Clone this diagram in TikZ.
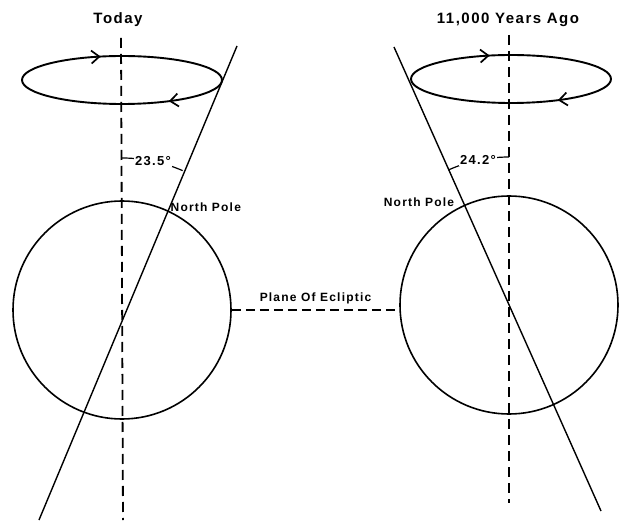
\documentclass[tikz,border=0pt]{standalone}
\usepackage{fontspec}
\setmainfont{Liberation Sans}[LetterSpace=10]
\usepackage{tikz}
\usetikzlibrary{arrows.meta,decorations.markings,calc}

\begin{document}
\begin{tikzpicture}[x=1pt, y=1pt,
  earth/.style={circle, draw, line width=1.6pt, minimum size=218pt, inner sep=0pt},
  axisline/.style={line width=1.4pt},
  pole/.style={dash pattern=on 10pt off 6pt, line width=1.8pt},
  ecliptic/.style={dash pattern=on 9pt off 5pt, line width=1.6pt},
  orbit/.style={line width=1.9pt, decoration={markings,
      mark=at position 0.2 with {\arrow{Straight Barb[length=8pt,width=13pt,line width=1.7pt]}},
      mark=at position 0.64 with {\arrow{Straight Barb[length=8pt,width=13pt,line width=1.7pt]}}},
    postaction={decorate}},
  title/.style={font=\bfseries\fontsize{15}{18}\selectfont},
  lbl/.style={font=\bfseries\fontsize{12}{14}\selectfont, inner sep=0pt},
  tiltlabel/.style={fill=white, inner sep=1pt, font=\bfseries\fontsize{13}{15}\selectfont}]
  \useasboundingbox (0,0) rectangle (621,520);

  % Today
  \node[title] (today) at (118,500) {Today};
  \node[earth] (Learth) at (122,210) {};
  \coordinate (Ltop) at (121,482);
  \coordinate (Lbot) at (123,0);
  \draw[pole] (Ltop) -- (Lbot);
  \coordinate (Laxtop) at (237,474);
  \coordinate (Laxbot) at (39,0);
  \draw[axisline] (Laxtop) -- (Laxbot);
  \coordinate (Lorbit) at (122,440);
  \draw[orbit] ($(Lorbit)+(-100,0)$) arc[start angle=180, end angle=-180, x radius=100, y radius=24];
  \draw[line width=1.2pt] ($(Learth.center)+(0,152)$) arc[start angle=90, end angle=66.5, radius=152];
  \node[tiltlabel] (Ltilt) at ($(Learth.center)+(78.25:152)$) {23.5°};
  \coordinate (Lpole) at ($(Learth.center)+(66.5:109)$);
  \node[lbl, anchor=west] (Lpolelabel) at ($(Lpole)+(5,3)$) {North Pole};

  % 11,000 years ago
  \node[title] (ago) at (508,500) {11,000 Years Ago};
  \node[earth] (Rearth) at (509,215) {};
  \coordinate (Rtop) at (509,485);
  \coordinate (Rbot) at (509,17);
  \draw[pole] (Rtop) -- (Rbot);
  \coordinate (Raxtop) at (394,473);
  \coordinate (Raxbot) at (601,9);
  \draw[axisline] (Raxtop) -- (Raxbot);
  \coordinate (Rorbit) at (511,441);
  \draw[orbit] ($(Rorbit)+(-100,0)$) arc[start angle=180, end angle=-180, x radius=100, y radius=24];
  \draw[line width=1.2pt] ($(Rearth.center)+(0,148)$) arc[start angle=90, end angle=114.2, radius=148];
  \node[tiltlabel] (Rtilt) at ($(Rearth.center)+(102.1:148)$) {24.2°};
  \coordinate (Rpole) at ($(Rearth.center)+(114.2:109)$);
  \node[lbl, anchor=east] (Rpolelabel) at ($(Rpole)+(-10,3)$) {North Pole};

  % ecliptic
  \draw[ecliptic] (Learth.east) -- (Learth.east -| Rearth.west)
    node[midway, above=5pt, lbl] (plane) {Plane Of Ecliptic};
\end{tikzpicture}
\end{document}
